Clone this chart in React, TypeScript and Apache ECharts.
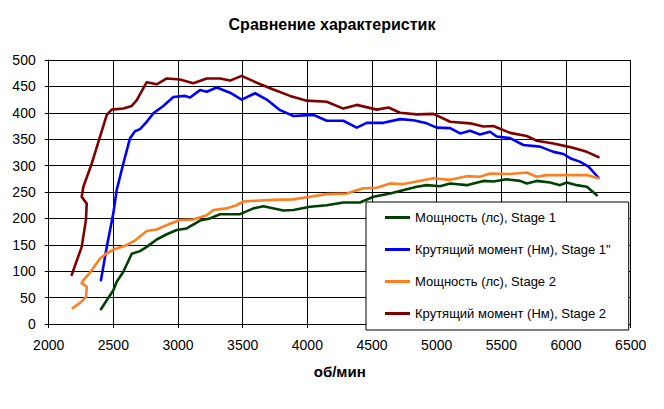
import React, { useEffect, useRef } from "react";
import * as echarts from "echarts";

const title = "Сравнение характеристик";
const xAxisName = "об/мин";
const seriesNames = [
  "Мощность (лс), Stage 1",
  "Крутящий момент (Нм), Stage 1\"",
  "Мощность (лс), Stage 2",
  "Крутящий момент (Нм), Stage 2",
];
const seriesColors = ["#004000", "#0000FF", "#FF7F1E", "#800000"];

const s1PowerRpm = [2404, 2449, 2500, 2526, 2577, 2642, 2706, 2758, 2835, 2913, 2990, 3067, 3170, 3247, 3325, 3480, 3583, 3660, 3815, 3892, 4021, 4150, 4278, 4407, 4511, 4640, 4769, 4846, 4923, 5026, 5104, 5232, 5361, 5438, 5541, 5644, 5696, 5774, 5877, 5954, 6006, 6083, 6161, 6238];
const s1Power = [28, 45, 64, 80, 99, 133, 138, 146, 160, 170, 178, 181, 196, 200, 208, 208, 219, 223, 215, 216, 222, 225, 230, 230, 241, 247, 255, 260, 263, 261, 266, 263, 271, 270, 274, 271, 266, 271, 268, 263, 268, 263, 260, 244];

const s1TorqueRpm = [2404, 2449, 2500, 2526, 2577, 2629, 2667, 2706, 2758, 2809, 2886, 2964, 3054, 3093, 3170, 3222, 3299, 3402, 3492, 3596, 3686, 3789, 3892, 4047, 4150, 4278, 4382, 4459, 4588, 4717, 4820, 4923, 5000, 5104, 5181, 5258, 5335, 5412, 5464, 5567, 5670, 5799, 5903, 5980, 6032, 6110, 6174, 6251];
const s1Torque = [83, 146, 210, 254, 304, 352, 365, 369, 383, 399, 413, 430, 432, 429, 443, 440, 448, 438, 425, 437, 425, 405, 394, 396, 385, 385, 372, 381, 381, 388, 386, 380, 372, 371, 361, 366, 359, 364, 355, 352, 339, 336, 326, 322, 314, 307, 298, 277];

const s2PowerRpm = [2186, 2242, 2289, 2294, 2255, 2268, 2319, 2397, 2449, 2513, 2590, 2667, 2758, 2835, 2938, 3015, 3118, 3222, 3273, 3376, 3454, 3505, 3634, 3737, 3892, 4021, 4150, 4304, 4433, 4537, 4640, 4743, 4846, 4975, 5104, 5232, 5335, 5412, 5567, 5696, 5774, 5851, 6006, 6161, 6251];
const s2Power = [30, 40, 51, 71, 77, 83, 97, 124, 134, 142, 148, 158, 176, 179, 190, 197, 198, 206, 216, 219, 225, 232, 234, 235, 236, 241, 246, 247, 257, 258, 266, 265, 270, 276, 273, 280, 279, 285, 284, 287, 279, 282, 282, 282, 276];

const s2TorqueRpm = [2178, 2255, 2288, 2294, 2255, 2268, 2333, 2397, 2449, 2487, 2577, 2642, 2681, 2758, 2835, 2913, 3015, 3118, 3222, 3273, 3325, 3402, 3492, 3608, 3737, 3866, 3995, 4150, 4278, 4382, 4537, 4627, 4717, 4846, 4975, 5104, 5258, 5361, 5438, 5567, 5696, 5774, 5903, 6032, 6161, 6251];
const s2Torque = [93, 146, 197, 228, 241, 260, 304, 355, 396, 406, 408, 413, 424, 458, 454, 465, 463, 456, 465, 465, 465, 461, 470, 457, 444, 432, 423, 421, 408, 415, 406, 410, 400, 397, 398, 383, 380, 374, 375, 362, 356, 347, 342, 335, 326, 316];

const allRpm = [s1PowerRpm, s1TorqueRpm, s2PowerRpm, s2TorqueRpm];
const allVals = [s1Power, s1Torque, s2Power, s2Torque];

const FONT = "'Liberation Sans', Arial, sans-serif";

export default function App() {
  const ref = useRef<HTMLDivElement>(null);
  useEffect(() => {
    if (!ref.current) return;
    const chart = echarts.init(ref.current, undefined, { renderer: "svg" });
    chart.setOption({
      animation: false,
      backgroundColor: "#ffffff",
      title: {
        text: title,
        left: "center",
        top: 11,
        textStyle: { fontFamily: FONT, fontSize: 16, fontWeight: "bold", color: "#000" },
      },
      grid: { left: 48.7, right: 33.3, top: 60, bottom: 85, containLabel: false },
      legend: {
        orient: "vertical",
        left: 366,
        top: 202,
        padding: [9, 18, 10, 19],
        itemGap: 19,
        itemWidth: 25,
        itemHeight: 3,
        icon: "rect",
        backgroundColor: "#ffffff",
        borderColor: "#000",
        borderWidth: 1,
        borderRadius: 0,
        selectedMode: false,
        textStyle: { fontFamily: FONT, fontSize: 13, color: "#000" },
        data: seriesNames,
      },
      xAxis: {
        type: "value",
        min: 2000,
        max: 6500,
        interval: 500,
        name: xAxisName,
        nameLocation: "middle",
        nameGap: 40,
        nameTextStyle: { fontFamily: FONT, fontSize: 15, fontWeight: "bold", color: "#000" },
        axisLine: { show: true, onZero: false, lineStyle: { color: "#000", width: 1 } },
        axisTick: { show: true, length: 4, lineStyle: { color: "#000" } },
        axisLabel: { margin: 14, fontFamily: FONT, fontSize: 14, color: "#000", formatter: (v: number) => String(v) },
        splitLine: { show: true, lineStyle: { color: "#000", width: 1 } },
      },
      yAxis: {
        type: "value",
        min: 0,
        max: 500,
        interval: 50,
        axisLine: { show: true, lineStyle: { color: "#000", width: 1 } },
        axisTick: { show: true, length: 4, lineStyle: { color: "#000" } },
        axisLabel: { margin: 13, fontFamily: FONT, fontSize: 14, color: "#000", formatter: (v: number) => String(v) },
        splitLine: { show: true, lineStyle: { color: "#000", width: 1 } },
      },
      series: seriesNames.map((name, i) => ({
        name,
        type: "line",
        showSymbol: false,
        symbol: "none",
        color: seriesColors[i],
        lineStyle: { width: 2.6, color: seriesColors[i], join: "round", cap: "round" },
        data: allRpm[i].map((r, k) => [r, allVals[i][k]]),
      })),
    });
    return () => chart.dispose();
  }, []);
  return <div ref={ref} style={{ width: 664, height: 409, position: "absolute", left: 0, top: 0 }} />;
}
